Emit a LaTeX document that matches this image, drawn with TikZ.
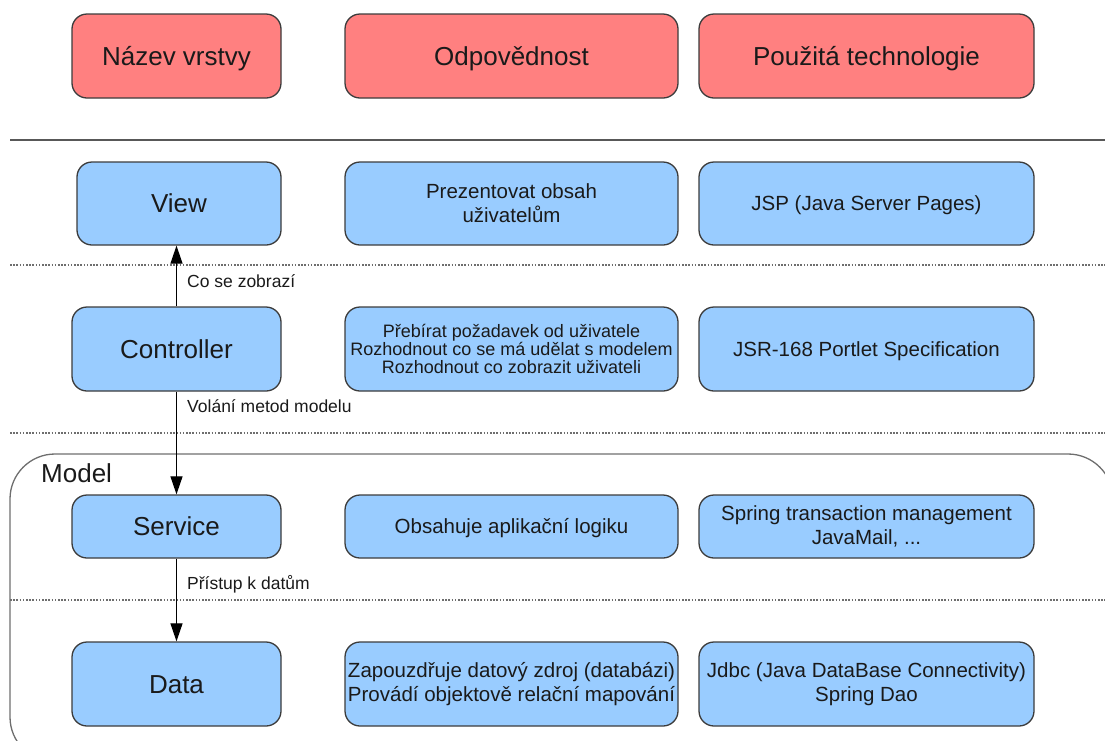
\documentclass[tikz,border=0pt]{standalone}
\usepackage{fontspec}
\setmainfont{Liberation Sans}
\usetikzlibrary{arrows.meta}
\definecolor{hdrfill}{HTML}{FF8080}
\definecolor{boxfill}{HTML}{99CCFF}
\definecolor{boxline}{HTML}{3C3C3C}
\definecolor{txt}{HTML}{1A1A1A}
\definecolor{rulegray}{HTML}{6E6E6E}
\begin{document}
\begin{tikzpicture}[x=1pt,y=-1pt,
  box/.style={draw=boxline, line width=1.3pt, rounded corners=15pt, fill=boxfill,
    text=txt, align=center, inner sep=0pt},
  bigline/.style={text height=18.6pt, text depth=0pt},
  midline/.style={text height=14.7pt, text depth=0pt},
  header/.style={box, fill=hdrfill, bigline, font=\fontsize{26}{30}\selectfont},
  layer/.style={box, bigline, font=\fontsize{26}{30}\selectfont},
  info/.style={box, font=\fontsize{20.5}{24}\selectfont},
  dense/.style={box, font=\fontsize{18}{18.4}\selectfont},
  lbl/.style={anchor=west, text=txt, font=\fontsize{17.5}{20}\selectfont, inner sep=0pt},
  flow/.style={-{Triangle[width=12pt,length=18pt]}, line width=1.2pt, draw=black},
  sep/.style={draw=rulegray, line width=1.2pt, dash pattern=on 1.6pt off 1.6pt},
  c1/.style={minimum width=209pt}, c2/.style={minimum width=333pt}, c3/.style={minimum width=335pt}
]
\useasboundingbox (0,0) rectangle (1105,740);
\clip (0,0) rectangle (1105,740);

% model frame and row separators
\draw[draw=rulegray, line width=1.3pt, rounded corners=45pt] (10,454) rectangle (1113,762);
\node[anchor=west, inner sep=0pt, text=txt, font=\fontsize{26}{30}\selectfont] (modellbl) at (41,473) {Model};
\draw[draw=rulegray!80!black, line width=1.3pt] (10,140) -- (1105,140);
\draw[sep] (10,265) -- (1105,265);
\draw[sep] (10,433) -- (1105,433);
\draw[sep] (10,600) -- (1105,600);

% header row
\node[header, c1, minimum height=84pt] (h1) at (176.5,56) {Název vrstvy};
\node[header, c2, minimum height=84pt] (h2) at (511.5,56) {Odpovědnost};
\node[header, c3, minimum height=84pt] (h3) at (866.5,56) {Použitá technologie};

% view
\node[layer, minimum width=204pt, minimum height=83pt] (view) at (179,203.5) {View};
\node[info, c2, minimum height=83pt] (viewr) at (511.5,203.5) {Prezentovat obsah\\uživatelům};
\node[info, midline, c3, minimum height=83pt] (viewt) at (866.5,203.5) {JSP (Java Server Pages)};

% controller
\node[layer, c1, minimum height=84pt] (ctrl) at (176.5,349) {Controller};
\node[dense, c2, minimum height=84pt] (ctrlr) at (511.5,349) {Přebírat požadavek od uživatele\\Rozhodnout co se má udělat s modelem\\Rozhodnout co zobrazit uživateli};
\node[info, midline, c3, minimum height=84pt] (ctrlt) at (866.5,349) {JSR-168 Portlet Specification};

% service
\node[layer, c1, minimum height=63pt] (svc) at (176.5,526.5) {Service};
\node[info, midline, c2, minimum height=63pt] (svcr) at (511.5,526.5) {Obsahuje aplikační logiku};
\node[info, c3, minimum height=63pt] (svct) at (866.5,526.5) {Spring transaction management\\JavaMail, ...};

% data
\node[layer, c1, minimum height=84pt] (data) at (176.5,684) {Data};
\node[info, c2, minimum height=84pt] (datar) at (511.5,684) {Zapouzdřuje datový zdroj (databázi)\\Provádí objektově relační mapování};
\node[info, c3, minimum height=84pt] (datat) at (866.5,684) {Jdbc (Java DataBase Connectivity)\\Spring Dao};

% flow between layers
\draw[flow] (ctrl.north) -- (ctrl.north |- view.south);
\draw[flow] (ctrl.south) -- (svc.north);
\draw[flow] (svc.south) -- (data.north);
\node[lbl] (l1) at (187,281.5) {Co se zobrazí};
\node[lbl] (l2) at (187,406.5) {Volání metod modelu};
\node[lbl] (l3) at (187,584) {Přístup k datům};
\end{tikzpicture}
\end{document}
